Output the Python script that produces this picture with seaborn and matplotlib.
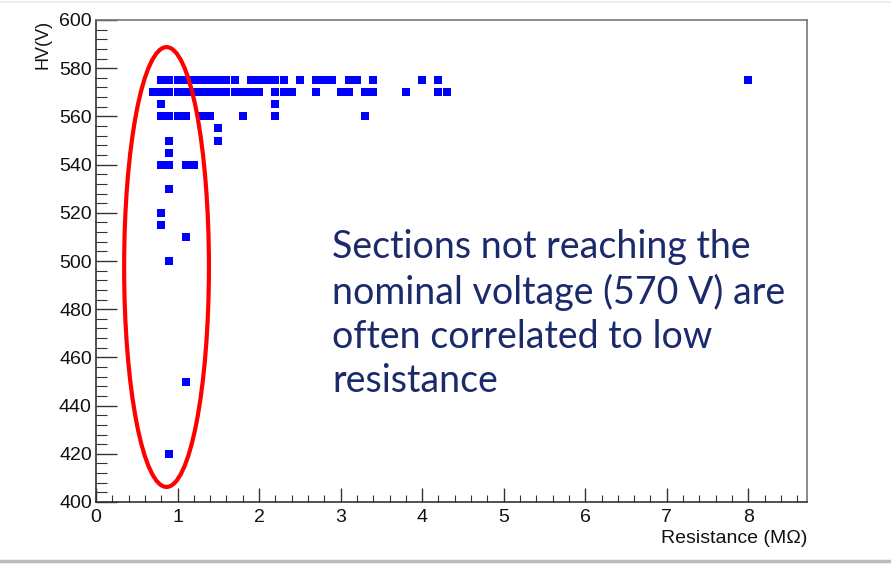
import matplotlib
matplotlib.use("Agg")
import matplotlib.pyplot as plt
from matplotlib.patches import Ellipse
from matplotlib.lines import Line2D
from matplotlib.ticker import MultipleLocator
import seaborn as sns
import pandas as pd

# Data: resistance (MOhm) values grouped by HV (V) level
r_575 = [0.8, 0.9, 1.0, 1.1, 1.2, 1.3, 1.4, 1.5, 1.6, 1.7, 1.9, 2.0, 2.1, 2.2, 2.3,
         2.5, 2.7, 2.8, 2.9, 3.1, 3.2, 3.4, 4.0, 4.2, 8.0]
r_570 = [0.7, 0.8, 0.9, 1.0, 1.1, 1.2, 1.3, 1.4, 1.5, 1.6, 1.7, 1.8, 1.9, 2.0, 2.2,
         2.3, 2.4, 2.7, 3.0, 3.1, 3.3, 3.4, 3.8, 4.2, 4.3]
r_565 = [0.8, 2.2]
r_560 = [0.8, 0.9, 1.0, 1.1, 1.3, 1.4, 1.8, 2.2, 3.3]
r_555 = [1.5]
r_550 = [0.9, 1.5]
r_545 = [0.9]
r_540 = [0.8, 0.9, 1.1, 1.2]
r_530 = [0.9]
r_520 = [0.8]
r_515 = [0.8]
r_510 = [1.1]
r_500 = [0.9]
r_450 = [1.1]
r_420 = [0.9]

groups = {575: r_575, 570: r_570, 565: r_565, 560: r_560, 555: r_555, 550: r_550,
          545: r_545, 540: r_540, 530: r_530, 520: r_520, 515: r_515, 510: r_510,
          500: r_500, 450: r_450, 420: r_420}

x_ticks = [0, 1, 2, 3, 4, 5, 6, 7, 8]
y_ticks = [400, 420, 440, 460, 480, 500, 520, 540, 560, 580, 600]
x_label = "Resistance (MΩ)"
y_label = "HV(V)"
note = "Sections not reaching the\nnominal voltage (570 V) are\noften correlated to low\nresistance"

rows = []
for hv, rs in groups.items():
    for r in rs:
        rows.append({"R": r, "HV": hv})
df = pd.DataFrame(rows)

sns.set_style("white")
plt.rcParams["font.family"] = ["Liberation Sans", "DejaVu Sans"]

fig = plt.figure(figsize=(8.91, 5.64), dpi=100)
ax = fig.add_axes([96 / 891, 1 - 502 / 564, (807 - 96) / 891, (502 - 20) / 564])

sns.scatterplot(data=df, x="R", y="HV", marker="s", s=26, color="#0000ff",
                linewidth=0, ax=ax, zorder=3)

ax.set_xlim(0, 8.72)
ax.set_ylim(400, 600)
ax.set_xticks(x_ticks)
ax.set_yticks(y_ticks)
ax.xaxis.set_minor_locator(MultipleLocator(0.2))
ax.yaxis.set_minor_locator(MultipleLocator(4))
ax.tick_params(axis="both", which="both", direction="in", color="#333333",
               labelsize=14, labelcolor="#111111", bottom=True, left=True,
               top=False, right=False)
ax.tick_params(axis="x", which="major", length=10, width=1, pad=5)
ax.tick_params(axis="x", which="minor", length=5, width=0.8)
ax.tick_params(axis="y", which="major", length=15, width=1, pad=3)
ax.tick_params(axis="y", which="minor", length=8, width=0.8)
for sp in ax.spines.values():
    sp.set_color("#333333")
    sp.set_linewidth(1.2)
ax.spines["top"].set_color("#777777")
ax.spines["right"].set_color("#777777")

ax.set_xlabel("")
ax.set_ylabel("")
ax.text(1.0, -0.076, x_label, transform=ax.transAxes, ha="right", va="center",
        fontsize=14, color="#111111")
ax.text(-0.074, 1.0, y_label, transform=ax.transAxes, ha="center", va="top",
        rotation=90, fontsize=13, color="#111111")

ell = Ellipse((0.865, 497.5), width=1.04, height=182.5, fill=False,
              edgecolor="#ff0000", linewidth=3, zorder=4)
ax.add_patch(ell)

ax.text(332 / 891, 1 - 229 / 564, note, transform=fig.transFigure, ha="left", va="top",
        fontsize=27, color="#1b2a6b", family=["Lato", "DejaVu Sans"], linespacing=1.28)

fig.add_artist(Line2D([0, 1], [1 - 561 / 564] * 2, color="#bbbbbb", linewidth=2.5,
                      transform=fig.transFigure))
fig.add_artist(Line2D([0, 1], [1 - 2 / 564] * 2, color="#eeeeee", linewidth=1.5,
                      transform=fig.transFigure))

fig.savefig("out.png", dpi=100)
